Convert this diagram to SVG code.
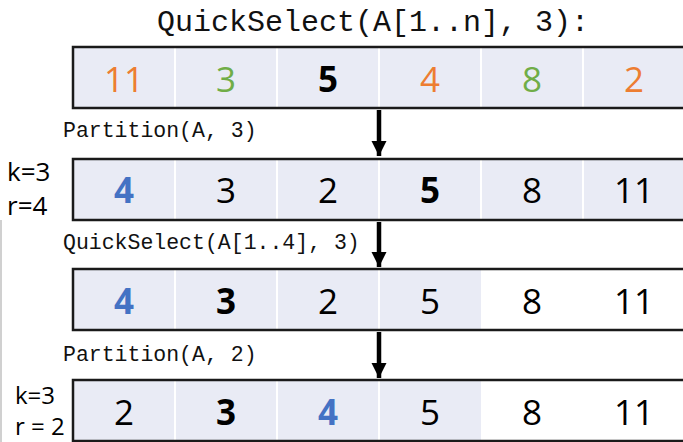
<svg xmlns="http://www.w3.org/2000/svg" width="683" height="442" viewBox="0 0 683 442">
<style>
.title{font-family:"Liberation Mono",monospace;font-size:30px;fill:#111}
.lbl{font-family:"Liberation Mono",monospace;font-size:21.5px;fill:#111}
.kr{font-family:"Open Sans","Liberation Sans",sans-serif;font-size:26px;fill:#000}
.kr2{font-family:"Open Sans","Liberation Sans",sans-serif;font-size:24px;fill:#000}
.num{font-family:"Open Sans","Liberation Sans",sans-serif;font-size:35px;fill:#000;text-anchor:middle}
.b{font-weight:bold}
.o{fill:#ED7D31}.g{fill:#70AD47}.bl{fill:#4472C4}
.sh{fill:#E9EBF5}
.wh{fill:#FFFFFF}
.div{stroke:#FFFFFF;stroke-width:2}
.frame{fill:none;stroke:#1a1a1a;stroke-width:2.5}
.arr{stroke:#000;stroke-width:4.5}
</style>
<defs>
<marker id="ah" viewBox="0 0 10 10" refX="10" refY="5" markerWidth="3.4" markerHeight="3.4" orient="auto" markerUnits="strokeWidth">
<path d="M0,0 L10,5 L0,10 z" fill="#000"/>
</marker>
</defs>
<rect x="0" y="220" width="2" height="222" fill="#D0D0D0"/>
<text class="title" x="373" y="31" text-anchor="middle">QuickSelect(A[1..n], 3):</text>

<g id="row1">
<rect class="sh" x="73" y="47" width="620" height="61"/>
<path class="div" d="M175,48V107M277,48V107M379,48V107M481,48V107M583,48V107"/>
<rect class="frame" x="73" y="47" width="620" height="61"/>
<text class="num o" x="124" y="92">11</text>
<text class="num g" x="226" y="92">3</text>
<text class="num b" x="328" y="92">5</text>
<text class="num o" x="430" y="92">4</text>
<text class="num g" x="532" y="92">8</text>
<text class="num o" x="634" y="92">2</text>
</g>

<g id="label1"><text class="lbl" x="63" y="137">Partition(A, 3)</text></g>

<g id="row2">
<text class="kr" x="7" y="181">k=3</text>
<text class="kr" x="7" y="215">r=4</text>
<rect class="sh" x="73" y="159" width="620" height="61"/>
<path class="div" d="M175,160V219M277,160V219M379,160V219M481,160V219M583,160V219"/>
<rect class="frame" x="73" y="159" width="620" height="61"/>
<text class="num b bl" x="124" y="203">4</text>
<text class="num" x="226" y="203">3</text>
<text class="num" x="328" y="203">2</text>
<text class="num b" x="430" y="203">5</text>
<text class="num" x="532" y="203">8</text>
<text class="num" x="634" y="203">11</text>
</g>

<g id="label2"><text class="lbl" x="63" y="249">QuickSelect(A[1..4], 3)</text></g>

<g id="row3">
<rect class="sh" x="73" y="269" width="408" height="61"/>
<rect class="wh" x="481" y="269" width="212" height="61"/>
<path class="div" d="M175,270V329M277,270V329M379,270V329"/>
<rect class="frame" x="73" y="269" width="620" height="61"/>
<text class="num b bl" x="124" y="314">4</text>
<text class="num b" x="226" y="314">3</text>
<text class="num" x="328" y="314">2</text>
<text class="num" x="430" y="314">5</text>
<text class="num" x="532" y="314">8</text>
<text class="num" x="634" y="314">11</text>
</g>

<g id="label3"><text class="lbl" x="63" y="361">Partition(A, 2)</text></g>

<g id="row4">
<text class="kr2" x="15" y="404">k=3</text>
<text class="kr2" x="15" y="435">r = 2</text>
<rect class="sh" x="73" y="380" width="408" height="61"/>
<rect class="wh" x="481" y="380" width="212" height="61"/>
<path class="div" d="M175,381V440M277,381V440M379,381V440"/>
<rect class="frame" x="73" y="380" width="620" height="61"/>
<text class="num" x="124" y="425">2</text>
<text class="num b" x="226" y="425">3</text>
<text class="num b bl" x="328" y="425">4</text>
<text class="num" x="430" y="425">5</text>
<text class="num" x="532" y="425">8</text>
<text class="num" x="634" y="425">11</text>
</g>

<g id="connectors">
<line class="arr" x1="379" y1="110" x2="379" y2="156" marker-end="url(#ah)"/>
<line class="arr" x1="379" y1="222" x2="379" y2="267" marker-end="url(#ah)"/>
<line class="arr" x1="379" y1="332" x2="379" y2="378" marker-end="url(#ah)"/>
</g>
</svg>
